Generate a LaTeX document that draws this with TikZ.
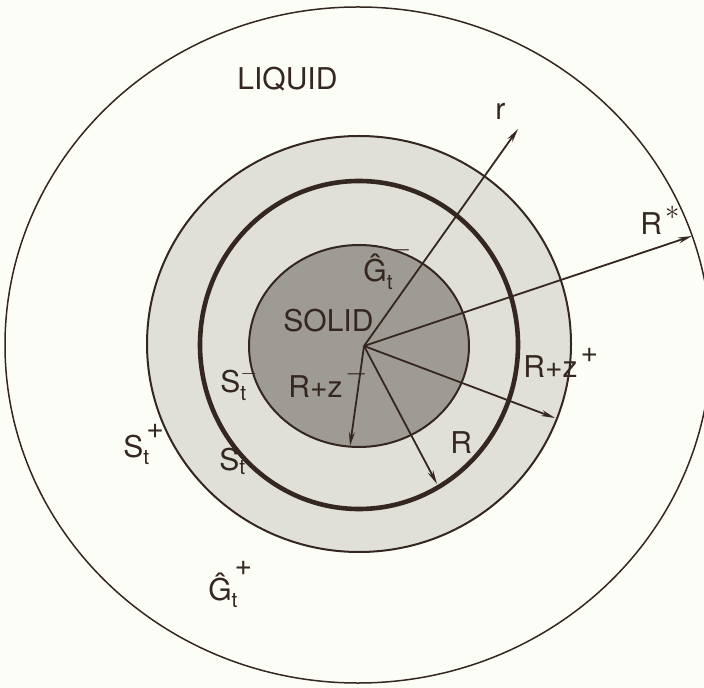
\documentclass[tikz,border=0pt]{standalone}
\usepackage{amsmath}
\usepackage{fontspec}
\setmainfont{TeX Gyre Heros}
\usetikzlibrary{arrows.meta}
\definecolor{inkbrown}{RGB}{52,38,32}
\definecolor{paper}{RGB}{253,253,247}
\definecolor{ringgray}{RGB}{224,224,216}
\definecolor{solidgray}{RGB}{158,155,148}
\newcommand{\upsc}[1]{\hspace{1.5pt}\raisebox{2.5pt}{#1}}

\begin{document}
\begin{tikzpicture}[x=0.5pt, y=-0.5pt,
  ray/.style={draw=inkbrown, line width=0.9pt, -{Stealth[length=7pt, width=3pt]}},
  lbl/.style={text=inkbrown, inner sep=0pt, anchor=base west, font=\fontsize{15}{18}\selectfont}]
\path[use as bounding box, fill=paper] (0,0) rectangle (704,688);
% circles
\draw[inkbrown, line width=0.75pt] (358,345) ellipse (353 and 338);
\draw[inkbrown, line width=1pt, fill=ringgray] (359,344) ellipse (212 and 208);
\draw[inkbrown, line width=1pt, fill=solidgray] (359,346) ellipse (110 and 101);
\draw[inkbrown, line width=2.3pt] (359,345) ellipse (159 and 164);
% radii
\coordinate (o) at (364,346);
\coordinate (rend) at (518,129);
\coordinate (Rstarend) at (692,236);
\coordinate (Rzplusend) at (555,418);
\coordinate (Rend) at (437,484);
\coordinate (Rzminusend) at (350,446);
\draw[ray] (o) -- (rend);
\draw[ray] (o) -- (Rstarend);
\draw[ray] (o) -- (Rzplusend);
\draw[ray] (o) -- (Rend);
\draw[ray] (o) -- (Rzminusend);
% labels
\node[lbl] (liquid) at (237,90) {LIQUID};
\node[lbl] (solid) at (283,332) {SOLID};
\node[lbl] (rlab) at (495,120) {r};
\node[lbl] (Rstarlab) at (640,235) {R$^{\upsc{$*$}}$};
\node[lbl] (Rzpluslab) at (523,378) {R+z$^{\upsc{+}}$};
\node[lbl] (Rlab) at (450,453) {R};
\node[lbl] (Rzminuslab) at (288,397) {R+z$^{\upsc{$-$}}$};
\node[lbl] (Gminuslab) at (363,282) {$\text{Ĝ}_{\text{t}}^{\upsc{$-$}}$};
\node[lbl] (Sminuslab) at (220,393) {$\text{S}_{\text{t}}^{-}$};
\node[lbl] (Slab) at (219,470) {$\text{S}_{\text{t}}$};
\node[lbl] (Spluslab) at (123,457) {$\text{S}_{\text{t}}^{\upsc{+}}$};
\node[lbl] (Gpluslab) at (208,600) {$\text{Ĝ}_{\text{t}}^{\upsc{+}}$};
\end{tikzpicture}
\end{document}
